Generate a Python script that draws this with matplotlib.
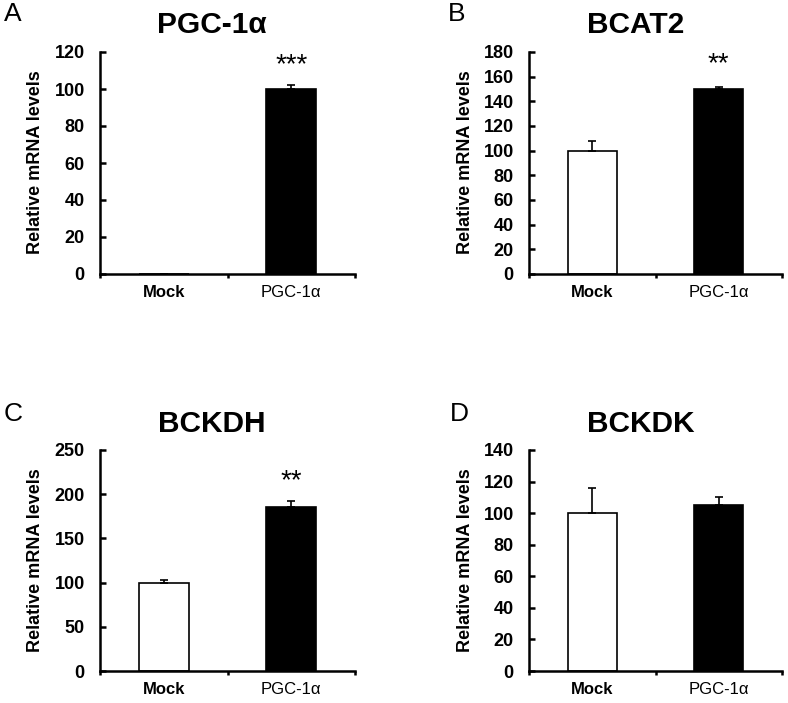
import matplotlib
matplotlib.use("Agg")
import matplotlib.pyplot as plt

plt.rcParams['font.family'] = ['Liberation Sans', 'DejaVu Sans']

groups = ["Mock", "PGC-1\u03b1"]
titles = ["PGC-1\u03b1", "BCAT2", "BCKDH", "BCKDK"]
letters = ["A", "B", "C", "D"]
values_A = [0, 100]
errors_A = [0, 2]
values_B = [100, 150]
errors_B = [8, 2]
values_C = [100, 185]
errors_C = [3, 7]
values_D = [100, 105]
errors_D = [16, 5.5]
stars = ["***", "**", "**", ""]
ymax = [120, 180, 250, 140]
ystep = [20, 20, 50, 20]
star_y = [113, 170, 215, 0]

values = [values_A, values_B, values_C, values_D]
errors = [errors_A, errors_B, errors_C, errors_D]

W, H = 788, 703
fig = plt.figure(figsize=(W / 100, H / 100), dpi=100)

# axes boxes in pixels: left, right, top, bottom
boxes = [(100, 355, 52, 274), (529, 782, 52, 274),
         (100, 355, 450, 671), (529, 782, 450, 671)]
title_x = [212, 636, 212, 641]
letter_pos = [(4, 14), (448, 14), (4, 414), (450, 414)]
title_y = [25, 25, 424, 424]
ylabel_x = [35.5, 465, 35.5, 465]
ylabel_y = [162, 162, 560, 560]

for i in range(4):
    l, r, t, b = boxes[i]
    ax = fig.add_axes([l / W, 1 - b / H, (r - l) / W, (b - t) / H])
    xs = [0.5, 1.5]
    ax.bar(xs, values[i], width=0.39, color=["white", "black"],
           edgecolor="black", linewidth=1.2, zorder=2)
    ax.errorbar(xs, values[i], yerr=[[0, 0], errors[i]], fmt="none",
                ecolor="black", elinewidth=1.2, capsize=3, capthick=1.2, zorder=3)
    ax.set_xlim(0, 2)
    ax.set_ylim(0, ymax[i])
    ax.set_yticks(range(0, ymax[i] + 1, ystep[i]))
    ax.tick_params(axis="y", direction="in", length=4, width=1.8, pad=11,
                   labelsize=13)
    for lab in ax.get_yticklabels():
        lab.set_fontweight("bold")
    ax.set_xticks([0, 1, 2])
    ax.set_xticklabels([])
    ax.tick_params(axis="x", which="major", direction="out", length=3, width=1.8)
    ax.set_xticks(xs, minor=True)
    ax.set_xticklabels(groups, minor=True)
    ax.tick_params(axis="x", which="minor", length=0, pad=8, labelsize=12)
    mlabs = ax.get_xticklabels(minor=True)
    mlabs[0].set_fontweight("bold")
    for sp in ["top", "right"]:
        ax.spines[sp].set_visible(False)
    for sp in ["left", "bottom"]:
        ax.spines[sp].set_linewidth(1.8)
    ax.set_ylabel("Relative mRNA levels", fontsize=13, fontweight="bold")
    ax.yaxis.set_label_coords((ylabel_x[i] - l) / (r - l),
                              (b - ylabel_y[i]) / (b - t))
    ax.yaxis.label.set_va("center")
    if stars[i]:
        ax.text(1.5, star_y[i], stars[i], ha="center", va="center", fontsize=20)
    fig.text(title_x[i] / W, 1 - title_y[i] / H, titles[i], ha="center",
             va="center", fontsize=21.5, fontweight="bold")
    lx, ly = letter_pos[i]
    fig.text(lx / W, 1 - ly / H, letters[i], ha="left", va="center", fontsize=19)

fig.savefig("out.png", dpi=100, facecolor="white")
